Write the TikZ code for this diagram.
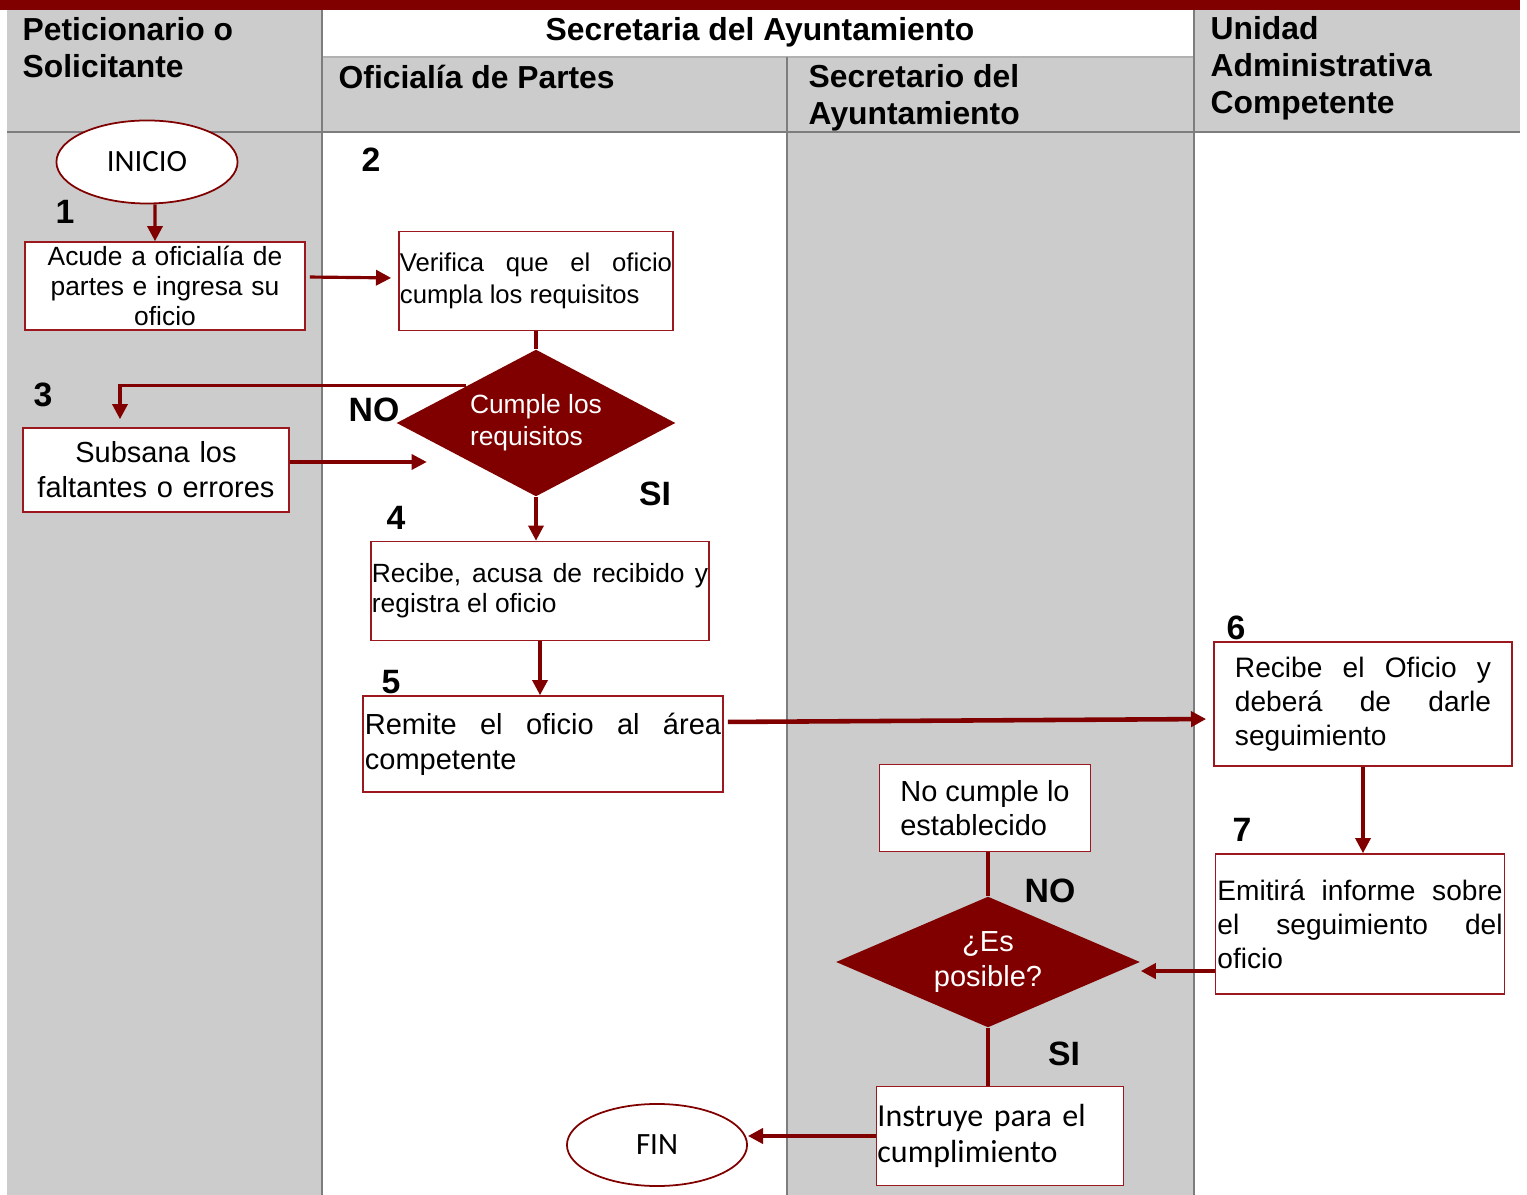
\documentclass[tikz,border=0pt]{standalone}
\usepackage{fontspec}
\setmainfont{Liberation Sans}
\newfontfamily\calibri{Carlito}
\usetikzlibrary{shapes.geometric,arrows.meta,positioning}

\definecolor{guinda}{RGB}{128,0,0}
\definecolor{borde}{RGB}{155,25,30}
\definecolor{carril}{RGB}{204,204,204}
\definecolor{rejilla}{RGB}{125,125,125}

\newcommand{\fuenteA}{\fontsize{7.5}{8.5}\selectfont}
\newcommand{\fuenteV}{\fontsize{7.3}{9.1}\selectfont}
\newcommand{\fuenteB}{\fontsize{8.25}{9.96}\selectfont}
\newcommand{\fuenteC}{\fontsize{8.0}{9.7}\selectfont}
\newcommand{\fuenteI}{\calibri\fontsize{9.1}{10.5}\selectfont}

\begin{document}
\begin{tikzpicture}[x=0.01cm,y=-0.01cm,
	caja/.style={draw=borde,line width=0.45pt,fill=white,rectangle,inner xsep=0.01cm,inner ysep=0pt},
	terminal/.style={draw=guinda,line width=0.5pt,fill=white,ellipse,inner sep=0pt,font=\calibri\fontsize{8.8}{10}\selectfont},
	decision/.style={diamond,fill=guinda,text=white,inner sep=0pt,aspect=1.9},
	flecha/.style={draw=guinda,line width=0.9pt,-{Triangle[length=4.3pt,width=4.3pt]}},
	flechag/.style={flecha,line width=1.3pt},
	linea/.style={draw=guinda,line width=0.9pt},
	paso/.style={font=\bfseries\fontsize{9.6}{11}\selectfont,inner sep=0pt},
	encab/.style={font=\bfseries\fontsize{9.05}{10.5}\selectfont,inner sep=0pt,align=left,anchor=north west}
]

	\useasboundingbox (0,0) rectangle (1527,1195);
	\fill[carril] (7,9) rectangle (322,1195);
	\fill[carril] (322,57) rectangle (1194,132);
	\fill[carril] (787,132) rectangle (1194,1195);
	\fill[carril] (1194,9) rectangle (1520,132);
	\fill[guinda] (0,0) rectangle (1520,10);
	\draw[rejilla,line width=0.35pt] (7,132) -- (1520,132);
	\draw[rejilla!60,line width=0.35pt] (322,57) -- (1194,57);
	\draw[rejilla,line width=0.35pt] (322,10) -- (322,1195);
	\draw[rejilla,line width=0.35pt] (787,57) -- (787,1195);
	\draw[rejilla,line width=0.35pt] (1194,10) -- (1194,1195);

	\node[encab] (hpet) at (22,17) {Peticionario o\\Solicitante};
	\node[encab,anchor=north] (hsec) at (760,17) {Secretaria del Ayuntamiento};
	\node[encab] (hofi) at (338,64) {Oficialía de Partes};
	\node[encab] (hsecre) at (808,64) {Secretario del\\Ayuntamiento};
	\node[encab] (huni) at (1210,16) {Unidad\\Administrativa\\Competente};

	\node[terminal,minimum width=1.81cm,minimum height=0.83cm] (inicio) at (147,162) {INICIO};
	\node[caja,minimum width=2.8cm,minimum height=0.88cm,text width=2.78cm,align=center,font=\fuenteA] (acude) at (165,286) {Acude a oficialía de\\partes e ingresa su\\oficio};
	\node[caja,minimum width=2.74cm,minimum height=0.99cm,text width=2.72cm,align=justify,font=\fuenteV] (verifica) at (536,281) {Verifica que el oficio\linebreak cumpla los requisitos};
	\node[decision,minimum width=2.79cm,minimum height=1.47cm,align=left,font=\fontsize{7.5}{9.1}\selectfont] (cumple) at (536,423) {Cumple los\\requisitos};
	\node[caja,minimum width=2.66cm,minimum height=0.84cm,text width=2.64cm,align=center,font=\fuenteB] (subsana) at (156,470) {Subsana los\\faltantes o errores};
	\node[caja,minimum width=3.38cm,minimum height=0.99cm,text width=3.36cm,align=justify,font=\fuenteA] (recibe) at (540,591) {Recibe, acusa de recibido y\linebreak registra el oficio};
	\node[caja,minimum width=3.6cm,minimum height=0.96cm,text width=3.56cm,inner xsep=0.02cm,align=justify,font=\fuenteB] (remite) at (543,744) {Remite el oficio al área\linebreak competente};
	\node[caja,minimum width=2.98cm,minimum height=1.24cm,text width=2.56cm,inner xsep=0.21cm,align=justify,font=\fuenteC] (recibeua) at (1363,704) {Recibe el Oficio y\linebreak deberá de darle\linebreak seguimiento};
	\node[caja,minimum width=2.89cm,minimum height=1.4cm,text width=2.85cm,inner xsep=0.02cm,align=justify,font=\fuenteC] (emitira) at (1360,924) {Emitirá informe sobre\linebreak el seguimiento del\linebreak oficio};
	\node[caja,minimum width=2.11cm,minimum height=0.87cm,align=left,font=\fontsize{8.25}{9.7}\selectfont] (nocumple) at (985,808) {No cumple lo\\establecido};
	\node[decision,minimum width=3.04cm,minimum height=1.31cm,align=center,font=\fontsize{8.25}{9.7}\selectfont] (posible) at (988,962) {¿Es\\posible?};
	\node[caja,minimum width=2.47cm,minimum height=0.99cm,text width=2.45cm,align=left,font=\fuenteI] (instruye) at (1000,1136) {Instruye para el\\cumplimiento};
	\node[terminal,minimum width=1.8cm,minimum height=0.82cm] (fin) at (657,1145) {FIN};

	\node[paso] (n1) at (65,212) {1};
	\node[paso] (n2) at (371,160) {2};
	\node[paso] (n3) at (43,395) {3};
	\node[paso] (n4) at (396,518) {4};
	\node[paso] (n5) at (391,682) {5};
	\node[paso] (n6) at (1236,628) {6};
	\node[paso] (n7) at (1242,830) {7};
	\node[paso] (no1) at (374,410) {NO};
	\node[paso] (si1) at (655,494) {SI};
	\node[paso] (no2) at (1050,891) {NO};
	\node[paso] (si2) at (1064,1054) {SI};

	\draw[flecha] ([xshift=0.08cm]inicio.south) -- ([xshift=-0.1cm]acude.north);
	\draw[flecha,shorten <=0.04cm,shorten >=0.07cm] ([yshift=0.09cm]acude.east) -- ([yshift=0.03cm]verifica.west);
	\draw[linea] (verifica.south) -- (cumple.north);
	\draw[flecha,shorten >=0.08cm] (cumple.north west) -| ([xshift=-0.36cm]subsana.north);
	\draw[flecha] ([yshift=0.08cm]subsana.east) -- ([xshift=0.31cm,yshift=0.08cm]subsana.east -| cumple.west);
	\draw[flecha] (cumple.south) -- (cumple.south |- recibe.north);
	\draw[flecha] (recibe.south) -- (recibe.south |- remite.north);
	\draw[flechag,shorten <=0.04cm,shorten >=0.07cm] ([yshift=0.22cm]remite.east) -- ([yshift=-0.15cm]recibeua.west);
	\draw[flecha] (recibeua.south) -- (recibeua.south |- emitira.north);
	\draw[flechag] ([yshift=-0.47cm]emitira.west) -- ([yshift=-0.47cm]emitira.west -| posible.east);
	\draw[linea] (posible.north |- nocumple.south) -- (posible.north);
	\draw[linea] (posible.south) -- (posible.south |- instruye.north);
	\draw[flechag] (instruye.west) -- (instruye.west -| fin.east);

\end{tikzpicture}
\end{document}
